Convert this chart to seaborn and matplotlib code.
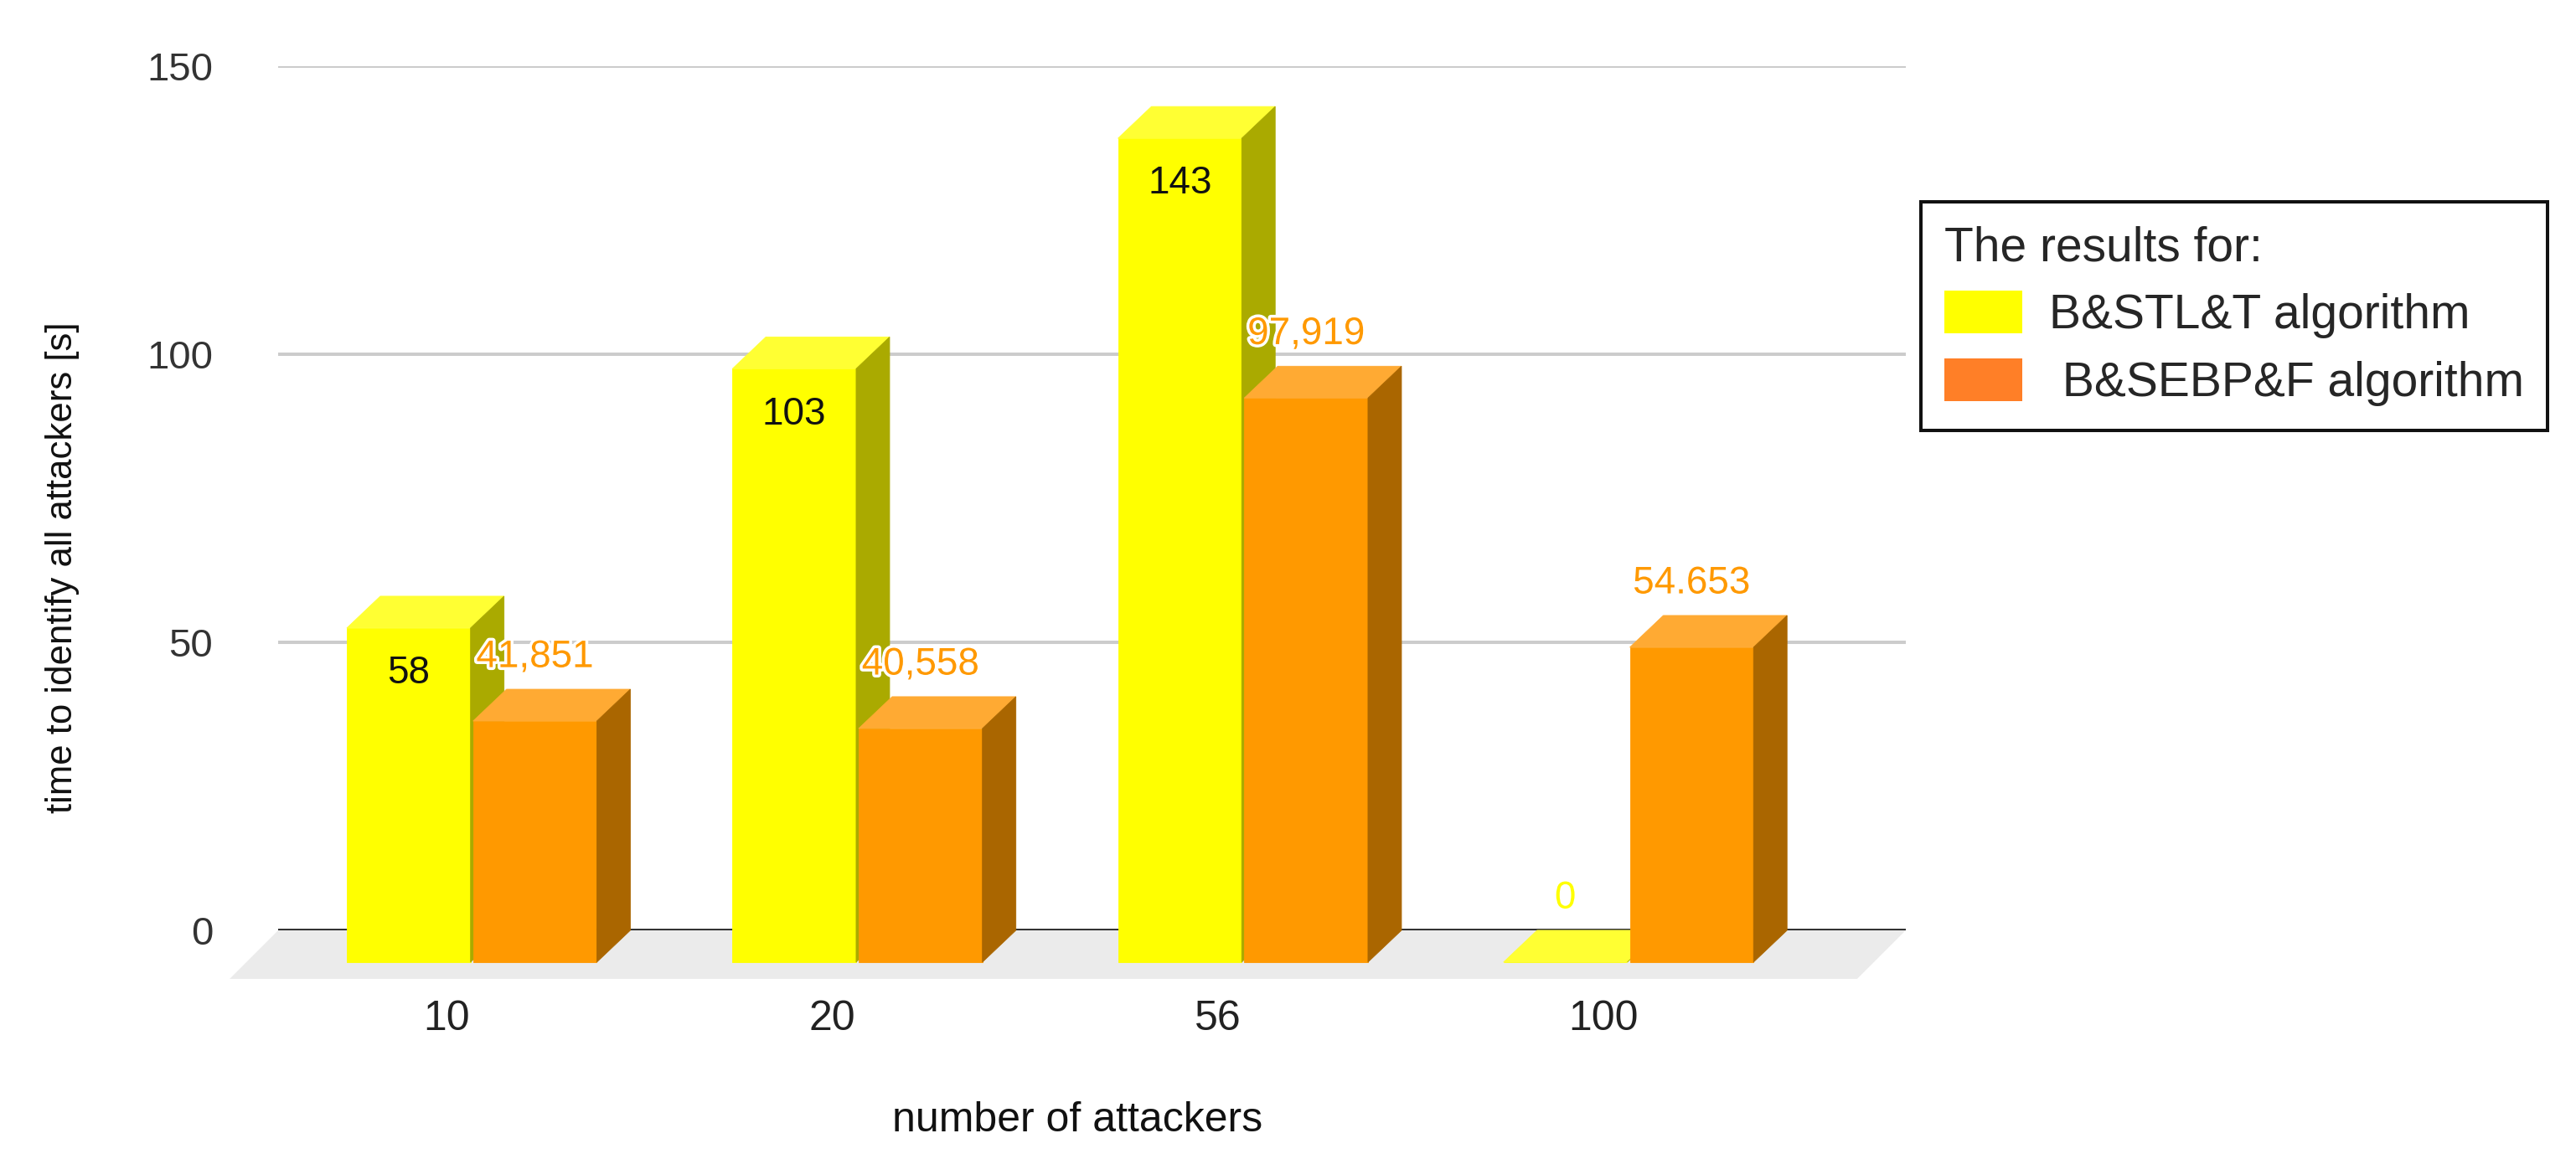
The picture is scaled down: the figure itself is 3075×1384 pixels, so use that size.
import pandas as pd
import seaborn as sns
import matplotlib.pyplot as plt
import matplotlib.patheffects as pe
from matplotlib.patches import Polygon, Patch
from matplotlib.transforms import ScaledTranslation

# dane
attackers = ["10", "20", "56", "100"]
bstlt = [58, 103, 143, 0]
bsebpf = [41.851, 40.558, 97.919, 54.653]
bstlt_labels = ["58", "103", "143", "0"]
bsebpf_labels = ["41,851", "40,558", "97,919", "54.653"]
series = ["B&STL&T algorithm", " B&SEBP&F algorithm"]
yticks = [0, 50, 100, 150]

# kolory: przod, gora, bok slupka
front = ["#ffff00", "#ff9900"]
top = ["#ffff33", "#ffaa33"]
side = ["#aaaa00", "#aa6600"]
legend_colors = ["#ffff00", "#ff7f27"]

df = pd.DataFrame({
    "attackers": attackers * 2,
    "time": bstlt + bsebpf,
    "algorithm": [series[0]] * len(attackers) + [series[1]] * len(attackers),
})

sns.set_style("white")
plt.rcParams["font.family"] = ["Liberation Sans", "DejaVu Sans"]

fig = plt.figure(figsize=(30.75, 13.84), dpi=100)
ax = fig.add_axes([0.108, 0.1973, 0.6318, 0.7456])

sns.barplot(data=df, x="attackers", y="time", hue="algorithm", order=attackers,
            hue_order=series, palette=front, saturation=1, width=0.655, gap=0.02,
            legend=False, linewidth=0, ax=ax)

ax.set_xlim(-0.589, 3.632)
ax.set_ylim(0, 150)
ax.set_yticks(yticks)
for s in ax.spines.values():
    s.set_visible(False)

# glebokosc efektu 3D przeliczona z pikseli na jednostki danych
p0 = ax.transData.transform((0, 0))
p1 = ax.transData.transform((1, 1))
px_x, px_y = p1[0] - p0[0], p1[1] - p0[1]
bdx, bdy = 40 / px_x, 38 / px_y
fdx, fdy = 58 / px_x, 58 / px_y

# podloga
xl0, xl1 = ax.get_xlim()
floor = Polygon([(xl0, 0), (xl1, 0), (xl1 - fdx, -fdy), (xl0 - fdx, -fdy)],
                facecolor="#ebebeb", edgecolor="none", zorder=1, clip_on=False)

bars = list(ax.patches)
ax.add_patch(floor)

ax.grid(axis="y", color="#cccccc", linewidth=2.9)
ax.set_axisbelow(True)
ax.axhline(0, color="#333333", linewidth=2.9, zorder=2)

halo = [pe.withStroke(linewidth=5, foreground="white")]
for bar in bars:
    x0, w, h = bar.get_x(), bar.get_width(), bar.get_height()
    cx = x0 + w / 2
    j = int(round(cx))
    k = 0 if cx < j else 1
    z = 3 + k
    bar.set_x(x0 - bdx)
    bar.set_y(-bdy)
    bar.set_clip_on(False)
    bar.set_zorder(z)
    bar.set_edgecolor(front[k])
    bar.set_linewidth(0.6)
    ax.add_patch(Polygon([(x0 - bdx, h - bdy), (x0 + w - bdx, h - bdy), (x0 + w, h), (x0, h)],
                         facecolor=top[k], edgecolor=top[k], linewidth=0.6,
                         zorder=z, clip_on=False))
    ax.add_patch(Polygon([(x0 + w - bdx, -bdy), (x0 + w, 0), (x0 + w, h), (x0 + w - bdx, h - bdy)],
                         facecolor=side[k], edgecolor=side[k], linewidth=0.6,
                         zorder=z, clip_on=False))

    fx = cx - bdx
    fy = h - bdy
    if k == 0 and h > 0:
        ax.annotate(bstlt_labels[j], xy=(fx, fy), xytext=(0, -39), textcoords="offset points",
                    ha="center", va="center", fontsize=33, color="#111111", zorder=10,
                    annotation_clip=False)
    else:
        txt = bstlt_labels[j] if k == 0 else bsebpf_labels[j]
        ax.annotate(txt, xy=(fx, fy), xytext=(0, 55), textcoords="offset points",
                    ha="center", va="center", fontsize=33, color=front[k], zorder=10,
                    path_effects=halo, annotation_clip=False)

# osie i etykiety
ax.set_xticks(range(len(attackers)))
ax.set_xticklabels(attackers)
ax.tick_params(axis="x", length=0, pad=60, labelsize=36, labelcolor="#222222")
ax.tick_params(axis="y", length=0, pad=56, labelsize=34, labelcolor="#333333")
shift = ScaledTranslation(-0.70, 0, fig.dpi_scale_trans)
for lab in ax.get_xticklabels():
    lab.set_transform(lab.get_transform() + shift)

ax.set_xlabel("number of attackers", fontsize=36, color="#111111")
ax.xaxis.set_label_coords(0.491, -0.198)
ax.set_ylabel("time to identify all attackers [s]", fontsize=31.5, color="#111111")
ax.yaxis.set_label_coords(-0.122, 0.42)

# legenda
handles = [Patch(facecolor=c, edgecolor="none") for c in legend_colors]
leg = ax.legend(handles, series, title="The results for:", loc="upper left",
                bbox_to_anchor=(2293 / 3075, 1 - 241 / 1384), bbox_transform=fig.transFigure,
                borderaxespad=0, frameon=True, fancybox=False, edgecolor="#111111",
                fontsize=41, title_fontsize=41, alignment="left",
                handlelength=1.63, handleheight=1.0, handletextpad=0.55,
                borderpad=0.5, labelspacing=0.42)
leg.get_frame().set_linewidth(2.9)
leg.get_frame().set_alpha(1)

fig.savefig("out.png", dpi=100)
